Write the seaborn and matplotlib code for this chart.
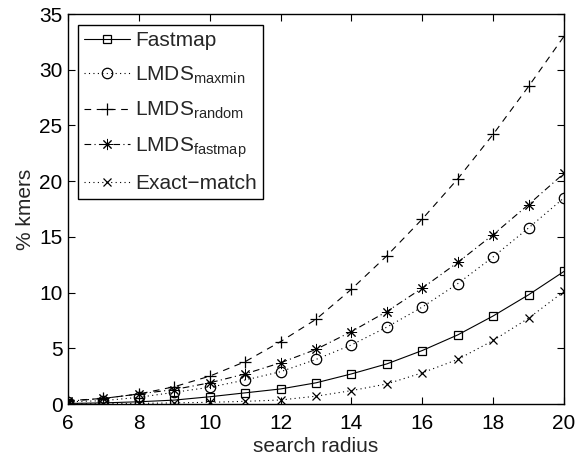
import matplotlib
matplotlib.use("Agg")
import matplotlib.pyplot as plt
import seaborn as sns
import pandas as pd

radius = [6, 7, 8, 9, 10, 11, 12, 13, 14, 15, 16, 17, 18, 19, 20]
fastmap = [0.05, 0.1, 0.2, 0.35, 0.65, 1.0, 1.35, 1.9, 2.7, 3.6, 4.8, 6.2, 7.9, 9.8, 11.9]
lmds_maxmin = [0.2, 0.3, 0.6, 1.05, 1.5, 2.15, 2.9, 4.0, 5.3, 6.9, 8.7, 10.8, 13.2, 15.8, 18.5]
lmds_random = [0.3, 0.5, 0.9, 1.55, 2.5, 3.8, 5.6, 7.6, 10.3, 13.3, 16.6, 20.2, 24.2, 28.5, 33.0]
lmds_fastmap = [0.25, 0.5, 0.9, 1.3, 1.9, 2.7, 3.7, 4.9, 6.5, 8.3, 10.4, 12.7, 15.2, 17.9, 20.7]
exact_match = [0.02, 0.02, 0.05, 0.1, 0.15, 0.24, 0.36, 0.7, 1.2, 1.8, 2.8, 4.0, 5.7, 7.7, 10.1]

labels = ["Fastmap", r"LMDS$_{\rm maxmin}$", r"LMDS$_{\rm random}$",
          r"LMDS$_{\rm fastmap}$", "Exact\u2212match"]
series = [fastmap, lmds_maxmin, lmds_random, lmds_fastmap, exact_match]

sns.set_style("ticks")
plt.rcParams["font.family"] = ["Liberation Sans", "DejaVu Sans"]
plt.rcParams["mathtext.fontset"] = "custom"
plt.rcParams["mathtext.rm"] = "Liberation Sans"
plt.rcParams["mathtext.it"] = "Liberation Sans"
plt.rcParams["xtick.direction"] = "in"
plt.rcParams["ytick.direction"] = "in"

fig = plt.figure(figsize=(5.76, 4.57), dpi=100)
ax = fig.add_axes([68 / 576, 1 - 404 / 457, (564 - 68) / 576, (404 - 14) / 457])

styles = [
    dict(linestyle="-", marker="s", markersize=6, markeredgewidth=0.9),
    dict(linestyle=(0, (1, 3)), marker="o", markersize=7.5, markeredgewidth=0.9),
    dict(linestyle=(0, (6, 5)), marker="+", markersize=9, markeredgewidth=0.9),
    dict(linestyle=(0, (6, 3, 1, 3)), marker=(8, 2, 0), markersize=8, markeredgewidth=0.7),
    dict(linestyle=(0, (1, 3)), marker="x", markersize=6, markeredgewidth=0.9),
]

for lab, vals, st in zip(labels, series, styles):
    df = pd.DataFrame({"radius": radius, "pct": vals})
    sns.lineplot(data=df, x="radius", y="pct", ax=ax, color="black",
                 linewidth=0.8, markerfacecolor="none", markeredgecolor="black",
                 label=lab, **st)

ax.set_xlim(6, 20)
ax.set_ylim(0, 35)
ax.set_xticks([6, 8, 10, 12, 14, 16, 18, 20])
ax.set_yticks([0, 5, 10, 15, 20, 25, 30, 35])
ax.tick_params(axis="both", labelsize=15, length=5, width=0.8, top=True, right=True,
               colors="black")
ax.tick_params(axis="x", pad=7)
ax.tick_params(axis="y", pad=4)
for sp in ax.spines.values():
    sp.set_visible(True)
    sp.set_linewidth(1.0)
    sp.set_color("black")
ax.set_xlabel("search radius", fontsize=15, labelpad=3)
ax.set_ylabel("% kmers", fontsize=15, labelpad=3)

leg = ax.legend(loc="upper left", bbox_to_anchor=(0.02, 0.972), fontsize=15,
                frameon=True, fancybox=False, framealpha=1, edgecolor="black",
                handlelength=2.2, handletextpad=0.25, labelspacing=0.68,
                borderpad=0.3, borderaxespad=0)
leg.get_frame().set_linewidth(1.0)

fig.savefig("out.png", dpi=100, facecolor="white")
